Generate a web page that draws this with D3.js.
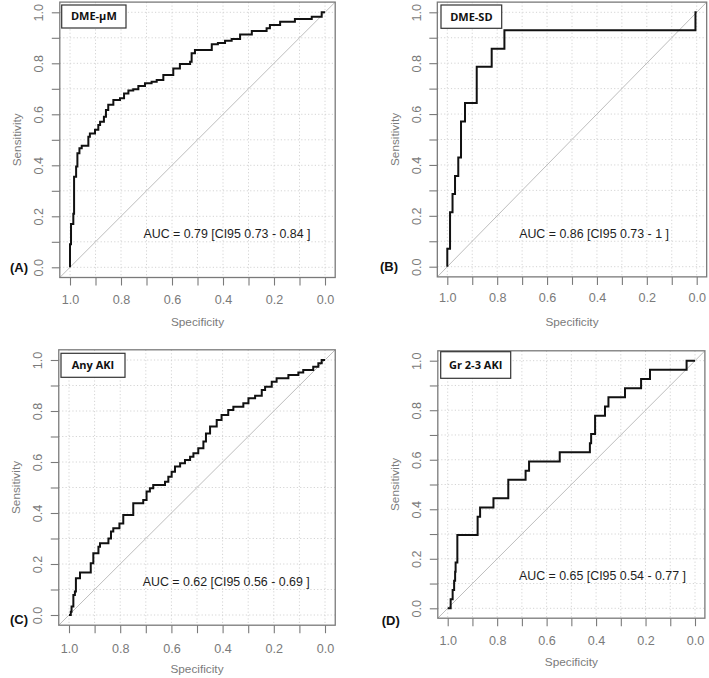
<!DOCTYPE html>
<html><head><meta charset="utf-8">
<script src="https://cdn.jsdelivr.net/npm/d3@7"></script>
<style>body{margin:0;background:#fff} svg{display:block}</style>
</head><body><svg id="c" width="709" height="678"></svg>
<script>
// ---- data (specificity, sensitivity step vertices) ----
const specA = [1.0,1.0,0.996,0.987,0.984,0.976,0.971,0.963,0.954,0.928,0.922,0.902,0.889,0.882,0.867,0.859,0.850,0.830,0.804,0.788,0.771,0.752,0.732,0.706,0.680,0.660,0.634,0.595,0.569,0.529,0.523,0.510,0.444,0.420,0.392,0.366,0.333,0.287,0.229,0.216,0.176,0.118,0.052,0.013,0.0];
const sensA = [0,0.09,0.17,0.21,0.355,0.395,0.447,0.467,0.477,0.512,0.525,0.539,0.558,0.571,0.59,0.617,0.637,0.656,0.663,0.682,0.693,0.698,0.711,0.722,0.728,0.735,0.754,0.780,0.797,0.806,0.839,0.852,0.875,0.880,0.888,0.895,0.913,0.927,0.937,0.950,0.963,0.974,0.983,1.0,1.0];
const specB = [1.0,1.0,0.989,0.979,0.969,0.956,0.945,0.929,0.882,0.822,0.771,0.005,0.0];
const sensB = [0,0.071,0.214,0.286,0.357,0.429,0.571,0.643,0.786,0.857,0.929,1.0,1.0];
const specC = [1.0,0.993,0.990,0.983,0.977,0.973,0.957,0.915,0.905,0.885,0.879,0.846,0.836,0.827,0.803,0.788,0.749,0.710,0.697,0.684,0.671,0.625,0.612,0.599,0.586,0.566,0.547,0.527,0.514,0.495,0.475,0.465,0.449,0.423,0.404,0.378,0.358,0.319,0.299,0.273,0.247,0.234,0.208,0.189,0.143,0.104,0.085,0.046,0.026,0.013,0.0];
const sensC = [0,0.013,0.033,0.078,0.092,0.144,0.167,0.203,0.242,0.268,0.281,0.30,0.327,0.34,0.359,0.392,0.438,0.451,0.484,0.497,0.51,0.523,0.542,0.562,0.582,0.595,0.608,0.621,0.634,0.654,0.68,0.712,0.739,0.765,0.784,0.804,0.817,0.83,0.85,0.86,0.882,0.895,0.915,0.928,0.941,0.951,0.961,0.974,0.987,1.0,1.0];
const specD = [1.0,0.988,0.980,0.974,0.970,0.968,0.961,0.879,0.869,0.815,0.755,0.685,0.671,0.547,0.425,0.420,0.404,0.364,0.350,0.283,0.218,0.182,0.034,0.0];
const sensD = [0,0.037,0.074,0.111,0.148,0.185,0.296,0.370,0.407,0.444,0.519,0.556,0.593,0.630,0.667,0.704,0.778,0.815,0.852,0.889,0.926,0.963,1.0,1.0];

const panelTags = ["(A)","(B)","(C)","(D)"];
const legendNames = ["DME-\u03bcM","DME-SD","Any AKI","Gr 2-3 AKI"];
const aucLabels = ["AUC = 0.79 [CI95 0.73 - 0.84 ]","AUC = 0.86 [CI95 0.73 - 1 ]","AUC = 0.62 [CI95 0.56 - 0.69 ]","AUC = 0.65 [CI95 0.54 - 0.77 ]"];
const tickValues = [0,0.1,0.2,0.3,0.4,0.5,0.6,0.7,0.8,0.9,1.0];
const labeledTicks = ["0.0","0.2","0.4","0.6","0.8","1.0"];
const xTitle = "Specificity", yTitle = "Sensitivity";

const specs = [specA,specB,specC,specD];
const senss = [sensA,sensB,sensC,sensD];

// ---- layout ----
const layout = [
  {x0:70, x1:325, y0:267.3, y1:12.3, ytickX:38.3, ytitleX:16.7, xtickY:299.3, xtitleY:321.7, tag:[10,267], leg:[61.7,5,64.3,23]},
  {x0:447.3, x1:696.7, y0:266.7, y1:12.3, ytickX:416.7, ytitleX:395, xtickY:297.7, xtitleY:321.7, tag:[380,266.7], leg:[441,5,60.7,23.3]},
  {x0:69, x1:325, y0:615, y1:360, ytickX:37.3, ytitleX:15.7, xtickY:648.3, xtitleY:669.3, tag:[10,619], leg:[61,353.3,64,24]},
  {x0:447.7, x1:695, y0:608.3, y1:360.7, ytickX:416.7, ytitleX:395, xtickY:640.7, xtitleY:661.7, tag:[381.7,620], leg:[440.7,351.7,70,26.6]}
];

const svg = d3.select("#c");
const gray = "#7a7a7a";

layout.forEach((L,i)=>{
  const x = d3.scaleLinear().domain([1,0]).range([L.x0,L.x1]);
  const y = d3.scaleLinear().domain([0,1]).range([L.y0,L.y1]);
  const bl = x(1.04), br = x(-0.04), bt = y(1.04), bb = y(-0.04);
  const g = svg.append("g");

  // grid
  g.selectAll(".gv").data(tickValues).join("line")
    .attr("x1",d=>x(d)).attr("x2",d=>x(d)).attr("y1",bt).attr("y2",bb)
    .attr("stroke","#d4d4d4").attr("stroke-width",1).attr("stroke-dasharray","1.2,2.2");
  g.selectAll(".gh").data(tickValues).join("line")
    .attr("y1",d=>y(d)).attr("y2",d=>y(d)).attr("x1",bl).attr("x2",br)
    .attr("stroke","#d4d4d4").attr("stroke-width",1).attr("stroke-dasharray","1.2,2.2");

  // diagonal
  g.append("line").attr("x1",x(1.04)).attr("y1",y(-0.04)).attr("x2",x(-0.04)).attr("y2",y(1.04))
    .attr("stroke","#bdbdbd").attr("stroke-width",1);

  // curve
  const pts = specs[i].map((s,k)=>[s,senss[i][k]]);
  const line = d3.line().x(d=>x(d[0])).y(d=>y(d[1])).curve(d3.curveStepAfter);
  g.append("path").attr("d",line(pts)).attr("fill","none").attr("stroke","#111")
    .attr("stroke-width",2).attr("stroke-linejoin","miter");

  // box
  g.append("rect").attr("x",bl).attr("y",bt).attr("width",br-bl).attr("height",bb-bt)
    .attr("fill","none").attr("stroke",gray).attr("stroke-width",1.3);

  const fmt = d=>{const s=d3.format(".1f")(d); return labeledTicks.includes(s)?s:"";};
  // x axis
  const ax = g.append("g").attr("transform",`translate(0,${bb})`)
    .call(d3.axisBottom(x).tickValues(tickValues).tickFormat(fmt).tickSize(8).tickSizeOuter(0));
  ax.select(".domain").remove();
  ax.selectAll("line").attr("stroke",gray).attr("stroke-width",1.1);
  ax.selectAll("text").attr("y",L.xtickY-bb).attr("dy","0.35em").attr("fill",gray)
    .style("font-family","'Liberation Sans', Arial, sans-serif").style("font-size","12.6px");
  // y axis
  const ay = g.append("g").attr("transform",`translate(${bl},0)`)
    .call(d3.axisLeft(y).tickValues(tickValues).tickFormat(fmt).tickSize(8).tickSizeOuter(0));
  ay.select(".domain").remove();
  ay.selectAll("line").attr("stroke",gray).attr("stroke-width",1.1);
  ay.selectAll("text").attr("x",0).attr("dy","0.35em").attr("text-anchor","middle")
    .attr("transform",`translate(${L.ytickX-bl},0) rotate(-90)`).attr("fill",gray)
    .style("font-family","'Liberation Sans', Arial, sans-serif").style("font-size","12.6px");

  // titles
  g.append("text").attr("x",(x(1)+x(0))/2).attr("y",L.xtitleY).attr("dy","0.35em")
    .attr("text-anchor","middle").attr("fill",gray)
    .style("font-family","'Liberation Sans', Arial, sans-serif").style("font-size","11.8px").text(xTitle);
  g.append("text").attr("transform",`translate(${L.ytitleX},${(y(0)+y(1))/2}) rotate(-90)`).attr("dy","0.35em")
    .attr("text-anchor","middle").attr("fill",gray)
    .style("font-family","'Liberation Sans', Arial, sans-serif").style("font-size","11.8px").text(yTitle);

  // AUC
  g.append("text").attr("x",x(0.712)).attr("y",y(0.13)).attr("dy","0.35em").attr("fill","#1e1e1e")
    .style("font-family","'Liberation Sans', Arial, sans-serif").style("font-size","12.4px").text(aucLabels[i]);

  // legend box
  const [lx,ly,lw,lh] = L.leg;
  g.append("rect").attr("x",lx).attr("y",ly).attr("width",lw).attr("height",lh)
    .attr("fill","#fff").attr("stroke","#333").attr("stroke-width",1.2);
  g.append("text").attr("x",lx+lw/2).attr("y",ly+lh/2).attr("dy","0.35em").attr("text-anchor","middle")
    .attr("fill","#111").style("font-family","'Open Sans', sans-serif").style("font-weight","bold")
    .style("font-size","11px").text(legendNames[i]);

  // panel tag
  g.append("text").attr("x",L.tag[0]).attr("y",L.tag[1]).attr("dy","0.35em").attr("fill","#111")
    .style("font-family","'Liberation Sans', Arial, sans-serif").style("font-weight","bold")
    .style("font-size","13px").text(panelTags[i]);
});
</script></body></html>
